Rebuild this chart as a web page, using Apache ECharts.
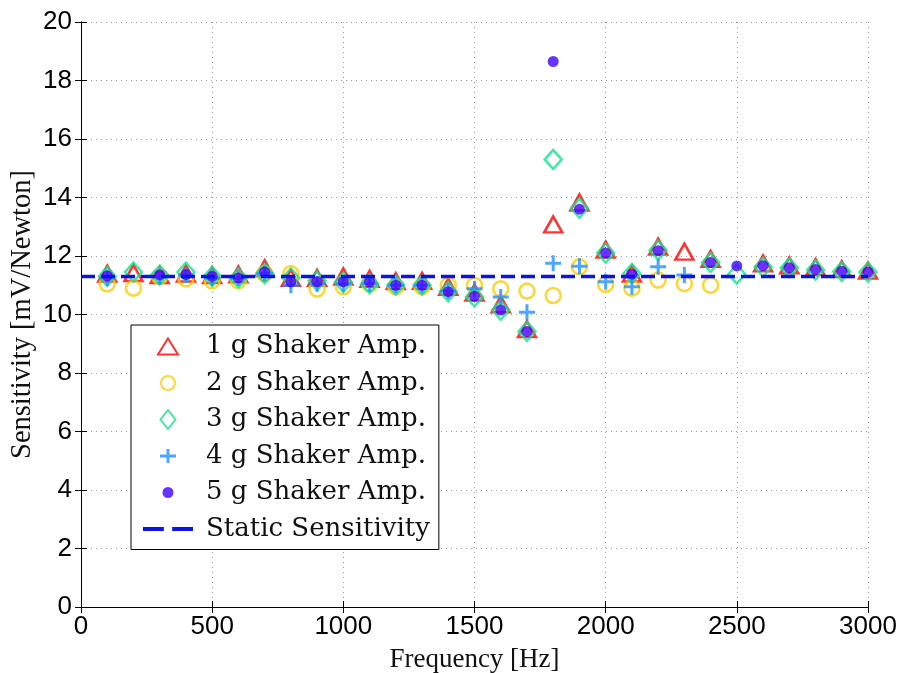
<!DOCTYPE html>
<html><head><meta charset="utf-8">
<script src="https://cdn.jsdelivr.net/npm/echarts@6/dist/echarts.min.js"></script>
<style>html,body{margin:0;padding:0;background:#fff}#c{width:901px;height:673px}</style>
</head><body><div id="c"></div>
<script>
const freqs = [100,200,300,400,500,600,700,800,900,1000,1100,1200,1300,1400,1500,1600,1700,1800,1900,2000,2100,2200,2300,2400,2500,2600,2700,2800,2900,3000];
const amp1g = [11.4,11.42,11.35,11.4,11.35,11.37,11.58,11.25,11.25,11.3,11.22,11.14,11.15,10.95,10.75,10.35,9.5,13.08,13.83,12.22,11.4,12.32,12.15,11.9,null,11.75,11.68,11.62,11.55,11.5];
const amp2g = [11.05,10.9,11.3,11.22,11.15,11.15,11.4,11.4,10.87,10.95,11.05,10.95,10.95,11.0,11.0,10.88,10.8,10.65,11.63,11.03,10.9,11.18,11.06,11.0,null,null,null,null,null,null];
const amp3g = [11.3,11.45,11.35,11.45,11.3,11.25,11.4,11.25,11.15,11.1,11.05,11.0,11.0,10.78,10.6,10.15,9.42,15.3,13.63,12.1,11.4,12.2,null,11.78,11.38,11.62,11.6,11.52,11.47,11.45];
const amp4g = [11.25,null,11.3,11.35,11.25,11.25,11.4,11.0,11.05,11.05,11.05,11.0,11.0,10.8,10.88,10.6,10.08,11.75,11.65,11.12,10.95,11.63,11.35,null,null,null,null,null,null,null];
const amp5g = [11.32,null,11.35,11.37,11.3,11.25,11.45,11.12,11.12,11.12,11.12,11.0,11.0,10.78,10.62,10.15,9.42,18.65,13.6,12.1,11.38,12.18,null,11.78,11.66,11.67,11.6,11.54,11.48,11.45];
const staticX = [0,3000];
const staticY = [11.3,11.3];
const seriesNames = ['1 g Shaker Amp.','2 g Shaker Amp.','3 g Shaker Amp.','4 g Shaker Amp.','5 g Shaker Amp.','Static Sensitivity'];
const xTicks = [0,500,1000,1500,2000,2500,3000];
const yTicks = [0,2,4,6,8,10,12,14,16,18,20];

const pair = (ys) => freqs.map((f,i)=> ys[i]==null ? null : [f, ys[i]]).filter(d=>d);
const plusPath = 'path://M6.5,0 h3 v6.5 h6.5 v3 h-6.5 v6.5 h-3 v-6.5 h-6.5 v-3 h6.5 z';
const box = 'M0,0 L0,0 M22,22 L22,22 ';
const icons = [
  'path://' + box + 'M11,3 L21,19 L1,19 Z',
  'path://' + box + 'M18,11 A7,7 0 1,1 4,11 A7,7 0 1,1 18,11 Z',
  'path://' + box + 'M11,1.5 L18.5,11 L11,20.5 L3.5,11 Z',
  'path://' + box + 'M9.5,4 h3 v5.5 h6.5 v3 h-6.5 v5.5 h-3 v-5.5 h-6.5 v-3 h6.5 z',
  'path://' + box + 'M16.5,11 A5.5,5.5 0 1,1 5.5,11 A5.5,5.5 0 1,1 16.5,11 Z',
  'path://M0,0 h20 v4 h-20 z M28,0 h20 v4 h-20 z'
];
const serif = 'Liberation Serif';
const legendFont = 'DejaVu Serif';
const sans = 'Liberation Sans';

const chart = echarts.init(document.getElementById('c'), null, {renderer:'canvas'});
const axisCommon = {
  axisLine:{show:true, lineStyle:{color:'#000', width:1}},
  axisTick:{show:true, inside:true, length:6, lineStyle:{color:'#000', width:1}},
};
chart.setOption({
  animation:false,
  backgroundColor:'#fff',
  grid:{left:81, right:33, top:22, bottom:66, containLabel:false, outerBoundsMode:'none'},
  xAxis:[
    Object.assign({type:'value', min:0, max:3000, interval:500, position:'bottom',
      name:'Frequency [Hz]', nameLocation:'middle', nameGap:39, nameMoveOverlap:false,
      nameTextStyle:{fontFamily:serif, fontSize:27, color:'#111'},
      axisLabel:{fontFamily:sans, fontSize:26, color:'#000', margin:7, formatter:(v)=>String(v)},
      splitLine:{show:true, lineStyle:{color:'#999', type:[1,4], width:1}}}, axisCommon),
    Object.assign({type:'value', min:0, max:3000, interval:500, position:'top',
      axisLabel:{show:false}, splitLine:{show:false}}, axisCommon)
  ],
  yAxis:[
    Object.assign({type:'value', min:0, max:20, interval:2, position:'left',
      name:'Sensitivity [mV/Newton]', nameLocation:'middle', nameGap:44, nameMoveOverlap:false,
      nameTextStyle:{fontFamily:serif, fontSize:28.5, color:'#111'},
      axisLabel:{fontFamily:sans, fontSize:26, color:'#000', margin:9, formatter:(v)=>String(v)},
      splitLine:{show:true, lineStyle:{color:'#999', type:[1,4], width:1}}}, axisCommon),
    Object.assign({type:'value', min:0, max:20, interval:2, position:'right',
      axisLabel:{show:false}, splitLine:{show:false}}, axisCommon)
  ],
  legend:{
    orient:'vertical', left:131, top:325, padding:[8,9,7,12],
    backgroundColor:'#fff', borderColor:'#000', borderWidth:1,
    itemWidth:50, itemHeight:22, itemGap:9.5, symbolKeepAspect:true,
    textStyle:{fontFamily:legendFont, fontSize:26, color:'#111', padding:[0,0,0,8], lineHeight:27},
    data:seriesNames.map((n,i)=>({name:n, icon:icons[i]}))
  },
  series:[
    {name:seriesNames[0], type:'scatter', data:pair(amp1g), symbol:'triangle', symbolSize:[18,16],
      itemStyle:{color:'rgba(255,255,255,0)', borderColor:'#ff0000', borderWidth:2.5}},
    {name:seriesNames[1], type:'scatter', data:pair(amp2g), symbol:'circle', symbolSize:15,
      itemStyle:{color:'rgba(255,255,255,0)', borderColor:'#ffcc00', borderWidth:2.5}},
    {name:seriesNames[2], type:'scatter', data:pair(amp3g), symbol:'diamond', symbolSize:[17,19],
      itemStyle:{color:'rgba(255,255,255,0)', borderColor:'#10e58a', borderWidth:2.5}},
    {name:seriesNames[3], type:'scatter', data:pair(amp4g), symbol:plusPath, symbolSize:16,
      itemStyle:{color:'#1e90ff'}},
    {name:seriesNames[4], type:'scatter', data:pair(amp5g), symbol:'circle', symbolSize:11,
      itemStyle:{color:'#4000ff'}},
    {name:seriesNames[5], type:'line', data:staticX.map((x,i)=>[x,staticY[i]]), showSymbol:false, symbol:'none',
      lineStyle:{color:'#0a14e6', width:3.5, type:[14,6]}, itemStyle:{color:'#0a14e6'}}
  ]
});
</script></body></html>
